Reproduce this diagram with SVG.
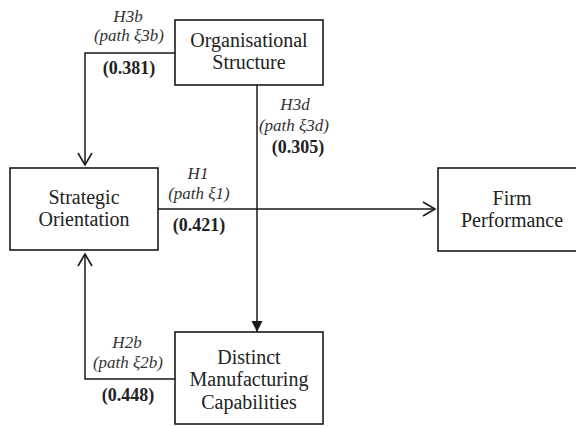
<svg xmlns="http://www.w3.org/2000/svg" width="576" height="426" viewBox="0 0 576 426">
<defs>
<style>
.box{fill:#fff;stroke:#1a1a1a;stroke-width:1.6}
text{font-family:'Liberation Serif','Times New Roman',Times,'Noto Serif','DejaVu Serif',serif;text-anchor:middle}
.node{font-size:20px;fill:#222}
.lab{font-size:17px;font-style:italic;fill:#333}
.val{font-size:18px;font-weight:bold;fill:#222}
.edge{fill:none;stroke:#1a1a1a;stroke-width:1.5}
</style>
<marker id="open" markerUnits="userSpaceOnUse" markerWidth="16" markerHeight="16" viewBox="0 0 16 16" refX="14" refY="8" orient="auto">
<path d="M2,1 L14,8 L2,15" fill="none" stroke="#1a1a1a" stroke-width="1.6"/>
</marker>
<marker id="solid" markerUnits="userSpaceOnUse" markerWidth="12" markerHeight="12" viewBox="0 0 12 12" refX="11" refY="6" orient="auto">
<path d="M0,0.5 L11,6 L0,11.5 z" fill="#1a1a1a"/>
</marker>
</defs>
<rect width="576" height="426" fill="#fff"/>
<g id="connectors">
<path class="edge" d="M175,53 H85 V165" marker-end="url(#open)"/>
<path class="edge" d="M175,379 H85 V254" marker-end="url(#open)"/>
<path class="edge" d="M158,209 H435" marker-end="url(#open)"/>
<path class="edge" d="M257,85 V332" marker-end="url(#solid)"/>
<text class="lab" x="128" y="22">H3b</text>
<text class="lab" x="129" y="41">(path ξ3b)</text>
<text class="val" x="129" y="74">(0.381)</text>
<text class="lab" x="295" y="110">H3d</text>
<text class="lab" x="294" y="131">(path ξ3d)</text>
<text class="val" x="298" y="153">(0.305)</text>
<text class="lab" x="198" y="179">H1</text>
<text class="lab" x="199" y="199">(path ξ1)</text>
<text class="val" x="199" y="231">(0.421)</text>
<text class="lab" x="127" y="348">H2b</text>
<text class="lab" x="128" y="368">(path ξ2b)</text>
<text class="val" x="128" y="401">(0.448)</text>
</g>
<g id="org">
<rect class="box" x="175" y="20" width="148" height="65"/>
<text class="node" x="249" y="47">Organisational</text>
<text class="node" x="249" y="69">Structure</text>
</g>
<g id="strategic">
<rect class="box" x="10" y="168" width="148" height="82"/>
<text class="node" x="84" y="204">Strategic</text>
<text class="node" x="84" y="226">Orientation</text>
</g>
<g id="firm">
<rect class="box" x="438" y="168" width="148" height="83"/>
<text class="node" x="512" y="205">Firm</text>
<text class="node" x="512" y="227">Performance</text>
</g>
<g id="manufacturing">
<rect class="box" x="175" y="332" width="148" height="92"/>
<text class="node" x="249" y="364">Distinct</text>
<text class="node" x="249" y="386">Manufacturing</text>
<text class="node" x="249" y="409">Capabilities</text>
</g>
</svg>
